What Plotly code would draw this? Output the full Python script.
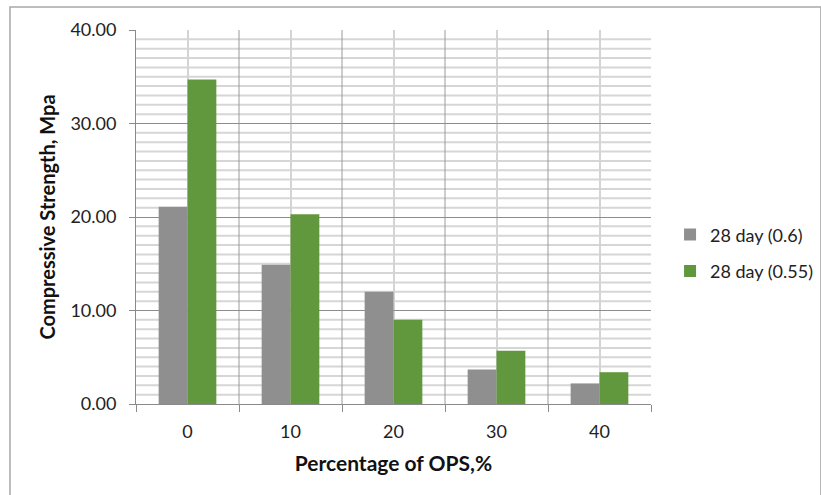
import plotly.graph_objects as go

# Compressive strength at 28 days for each OPS replacement level
ops_levels = ["0", "10", "20", "30", "40"]
strength_w060 = [21.1, 14.9, 12.0, 3.7, 2.2]
strength_w055 = [34.7, 20.3, 9.0, 5.7, 3.4]
series_names = ["28 day (0.6)", "28 day (0.55)"]
y_ticks = [0, 10, 20, 30, 40]

FONT = "Lato"
GRAY = "#8f8f8f"
GREEN = "#62983d"

# categories placed at integer slots so the grid can sit on the slot edges
slots = list(range(len(ops_levels)))
edges = [i - 0.5 for i in range(len(ops_levels) + 1)]

fig = go.Figure()
fig.add_trace(go.Bar(x=slots, y=strength_w060, name=series_names[0],
                     marker=dict(color=GRAY, line=dict(width=0)),
                     legendgroup="a"))
fig.add_trace(go.Bar(x=slots, y=strength_w055, name=series_names[1],
                     marker=dict(color=GREEN, line=dict(width=0)),
                     legendgroup="b"))

shapes = []
# minor horizontal grid every 1 MPa
for v in range(1, 40):
    if v % 10:
        shapes.append(dict(type="line", xref="paper", yref="y", x0=0, x1=1,
                           y0=v, y1=v, line=dict(color="#d6d6d6", width=2),
                           layer="below"))
# darker vertical lines on the category edges
for e in edges[1:-1]:
    shapes.append(dict(type="line", xref="x", yref="paper", x0=e, x1=e,
                       y0=0, y1=1, line=dict(color="#9a9a9a", width=1),
                       layer="below"))
# outer chart frame
shapes.append(dict(type="rect", xref="paper", yref="paper",
                   x0=-0.2447, x1=1.33, y0=-0.3, y1=1.0615,
                   line=dict(color="#a8a8a8", width=1.5), layer="below"))

fig.update_layout(
    width=821, height=495,
    margin=dict(l=136, r=170, t=30, b=91, autoexpand=False),
    paper_bgcolor="white", plot_bgcolor="white",
    barmode="group", bargap=0.44, bargroupgap=0,
    font=dict(family=FONT, size=15, color="#222222"),
    shapes=shapes,
    legend=dict(x=1.037, y=0.404, xanchor="left", yanchor="middle",
                font=dict(family=FONT, size=18, color="#222222"),
                tracegroupgap=10, itemwidth=30),
    xaxis=dict(
        range=[edges[0], edges[-1]],
        tickvals=slots, ticktext=ops_levels, ticks="",
        showgrid=True, gridcolor="#d4d4d4", gridwidth=2,
        showline=True, linecolor="#8a8a8a", linewidth=1,
        zeroline=False, ticklabelstandoff=11,
        minor=dict(tickvals=edges, ticks="outside", ticklen=7,
                   tickcolor="#8a8a8a", showgrid=False),
        tickfont=dict(family=FONT, size=18),
        title=dict(text="<b>Percentage of OPS,%</b>", standoff=15,
                   font=dict(family=FONT, size=21, color="#111111")),
    ),
    yaxis=dict(
        range=[0, 40], tickvals=y_ticks,
        ticktext=[f"{v:.2f}" for v in y_ticks],
        showgrid=True, gridcolor="#8c8c8c", gridwidth=1,
        showline=True, linecolor="#8a8a8a", linewidth=1,
        ticks="outside", ticklen=6, tickcolor="#8a8a8a",
        tickfont=dict(family=FONT, size=18), ticklabelstandoff=9,
        zeroline=False,
        title=dict(text="<b>Compressive Strength, Mpa</b>", standoff=9,
                   font=dict(family=FONT, size=20, color="#111111")),
    ),
)

fig.write_html("out.html")
